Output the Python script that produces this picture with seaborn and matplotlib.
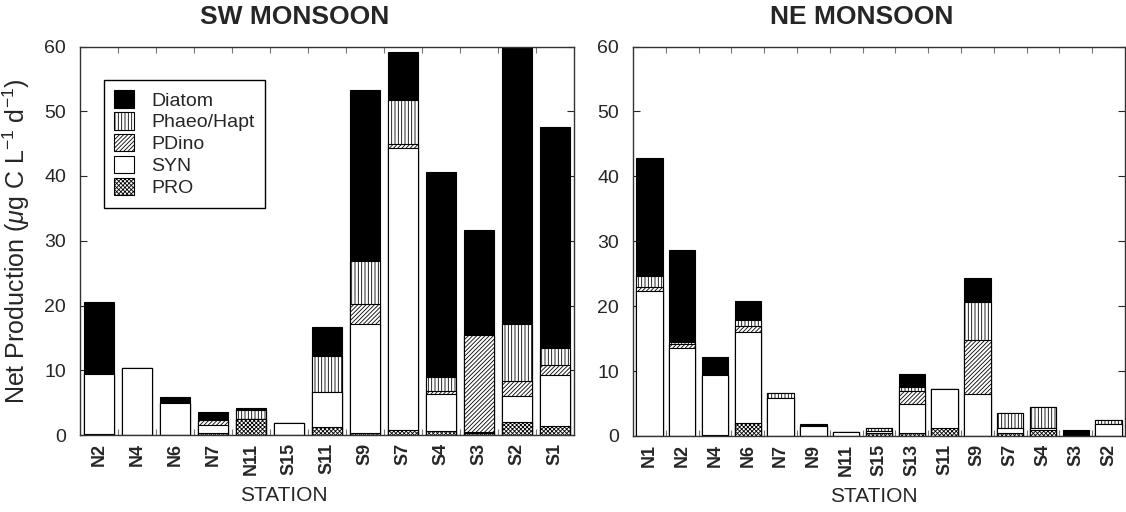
import numpy as np
import pandas as pd
import matplotlib
matplotlib.use("Agg")
import matplotlib.pyplot as plt
from matplotlib.patches import Patch
from matplotlib.ticker import FixedLocator
import seaborn as sns

# ---------------- data ----------------
components = ["PRO", "SYN", "PDino", "Phaeo/Hapt", "Diatom"]  # bottom -> top

sw_stations = ["N2", "N4", "N6", "N7", "N11", "S15", "S11", "S9", "S7", "S4", "S3", "S2", "S1"]
sw_pro    = [0.1, 0.0, 0.0, 0.3, 2.4, 0.0, 1.3, 0.3, 0.8, 0.6, 0.3, 2.0, 1.4]
sw_syn    = [9.3, 10.3, 5.0, 1.2, 0.1, 1.9, 5.3, 16.9, 43.6, 5.7, 0.1, 4.1, 7.8]
sw_pdino  = [0.2, 0.0, 0.0, 0.8, 0.0, 0.0, 0.0, 3.0, 0.6, 0.5, 15.0, 2.2, 1.6]
sw_phaeo  = [0.0, 0.0, 0.0, 0.0, 1.3, 0.0, 5.6, 6.6, 6.8, 2.2, 0.0, 8.9, 2.7]
sw_diatom = [11.0, 0.0, 0.8, 1.2, 0.4, 0.0, 4.5, 26.5, 7.3, 31.6, 16.2, 43.8, 34.0]

ne_stations = ["N1", "N2", "N4", "N6", "N7", "N9", "N11", "S15", "S13", "S11", "S9", "S7", "S4", "S3", "S2"]
ne_pro    = [0.0, 0.0, 0.2, 2.0, 0.0, 0.0, 0.0, 0.5, 0.4, 1.3, 0.0, 0.5, 1.0, 0.2, 0.0]
ne_syn    = [22.3, 13.5, 9.2, 14.0, 5.8, 1.5, 0.6, 0.2, 4.5, 5.9, 6.4, 0.7, 0.2, 0.0, 1.8]
ne_pdino  = [0.6, 0.7, 0.0, 0.9, 0.0, 0.0, 0.0, 0.0, 2.1, 0.0, 8.4, 0.0, 0.0, 0.0, 0.0]
ne_phaeo  = [1.7, 0.3, 0.0, 0.9, 0.8, 0.0, 0.0, 0.5, 0.5, 0.0, 5.9, 2.4, 3.3, 0.0, 0.7]
ne_diatom = [18.3, 14.2, 2.8, 3.0, 0.0, 0.35, 0.0, 0.0, 2.1, 0.0, 3.7, 0.0, 0.0, 0.7, 0.0]

yticks = [0, 10, 20, 30, 40, 50, 60]

# ---------------- style ----------------
sns.set_style("white")
plt.rcParams["font.family"] = ["Liberation Sans", "DejaVu Sans"]
plt.rcParams["hatch.linewidth"] = 0.6
plt.rcParams["mathtext.fontset"] = "custom"
plt.rcParams["mathtext.rm"] = "Liberation Sans"
plt.rcParams["mathtext.it"] = "Liberation Sans:italic"

styles = {
    "Diatom":     dict(color="black", hatch=None),
    "Phaeo/Hapt": dict(color="white", hatch="|||||"),
    "PDino":      dict(color="white", hatch="////////"),
    "SYN":        dict(color="white", hatch=None),
    "PRO":        dict(color="white", hatch="xxxxxxxx"),
}

fig = plt.figure(figsize=(11.26, 5.12), dpi=100)
ax1 = fig.add_axes([80 / 1126, 1 - 435 / 512, 494 / 1126, 388.5 / 512])
ax2 = fig.add_axes([633 / 1126, 1 - 436 / 512, 492 / 1126, 389.5 / 512])


def draw(ax, stations, pro, syn, pdino, phaeo, diatom):
    df = pd.DataFrame({"station": stations, "PRO": pro, "SYN": syn, "PDino": pdino,
                       "Phaeo/Hapt": phaeo, "Diatom": diatom})
    cum = df[components].cumsum(axis=1)
    # draw from top-most cumulative layer down so lower layers overlay
    for comp in reversed(components):
        st = styles[comp]
        sub = pd.DataFrame({"station": df["station"], "value": cum[comp]})
        n_before = len(ax.patches)
        sns.barplot(data=sub, x="station", y="value", order=stations, ax=ax,
                    color=st["color"], saturation=1, width=0.8, errorbar=None,
                    edgecolor="black", linewidth=0.8)
        if st["hatch"]:
            for p in ax.patches[n_before:]:
                p.set_hatch(st["hatch"])
    n = len(stations)
    ax.set_xlim(-0.5, n - 0.5)
    ax.set_ylim(0, 60)
    ax.set_yticks(yticks)
    ax.set_yticklabels([str(t) for t in yticks], fontsize=14)
    ax.set_xticks(range(n))
    ax.set_xticklabels(stations, rotation=90, fontsize=13, fontweight="bold")
    ax.xaxis.set_minor_locator(FixedLocator(np.arange(0.5, n - 0.5, 1.0)))
    ax.tick_params(axis="x", which="major", length=0, pad=6)
    ax.tick_params(axis="x", which="minor", direction="in", length=4, width=0.8,
                   color="#777777", top=True, bottom=True)
    ax.tick_params(axis="y", which="major", direction="in", length=5, width=0.8,
                   left=True, right=True, pad=10)
    for s in ax.spines.values():
        s.set_visible(True)
        s.set_color("#333333")
        s.set_linewidth(1.0)
    ax.set_ylabel("")


draw(ax1, sw_stations, sw_pro, sw_syn, sw_pdino, sw_phaeo, sw_diatom)
draw(ax2, ne_stations, ne_pro, ne_syn, ne_pdino, ne_phaeo, ne_diatom)

ax1.set_title("SW MONSOON", fontsize=19, fontweight="bold", x=0.434, pad=16)
ax2.set_title("NE MONSOON", fontsize=19, fontweight="bold", x=0.464, pad=16)

ax1.set_xlabel("STATION", fontsize=15)
ax2.set_xlabel("STATION", fontsize=15)
ax1.xaxis.set_label_coords(0.413, -0.132)
ax2.xaxis.set_label_coords(0.489, -0.132)

ax1.set_ylabel(r"Net Production ($\mu$g C L$^{-1}$ d$^{-1}$)", fontsize=18)
ax1.yaxis.set_label_coords(-0.098, 0.5)

handles = [Patch(facecolor=styles[c]["color"], edgecolor="black", hatch=styles[c]["hatch"],
                 linewidth=0.8, label=c) for c in reversed(components)]
leg = ax1.legend(handles=handles, loc="upper left", bbox_to_anchor=(0.048, 0.915),
                 fontsize=14, frameon=True, fancybox=False, framealpha=1,
                 edgecolor="black", handlelength=1.0, handleheight=1.0,
                 handletextpad=0.9, labelspacing=0.13, borderpad=0.55,
                 borderaxespad=0)
leg.get_frame().set_linewidth(1.0)

fig.savefig("out.png", dpi=100, facecolor="white")
